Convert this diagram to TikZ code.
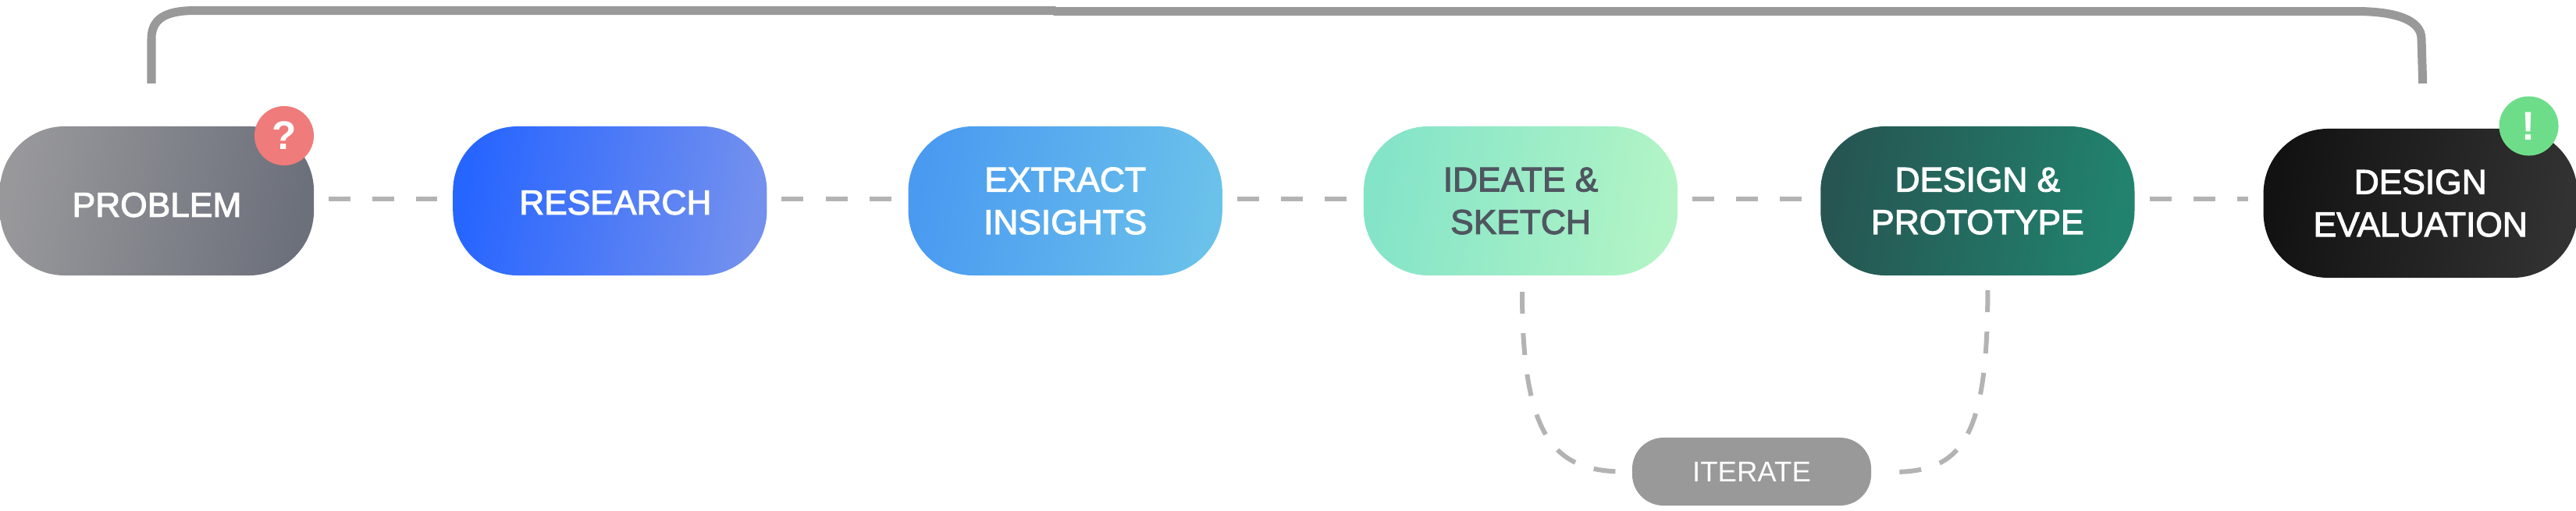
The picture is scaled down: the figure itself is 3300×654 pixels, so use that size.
\documentclass[tikz,border=0pt]{standalone}
\usepackage{fontspec}
\setmainfont{Liberation Sans}
\newfontfamily\stepfont[FakeBold=2.5]{Liberation Sans}
\usetikzlibrary{calc,positioning}
\definecolor{ProblemLeft}{HTML}{98989B}
\definecolor{ProblemMid}{HTML}{7E7E7E}
\definecolor{ProblemRight}{HTML}{6C707B}
\definecolor{ResearchLeft}{HTML}{2765FF}
\definecolor{ResearchRight}{HTML}{7390EE}
\definecolor{ExtractLeft}{HTML}{4A9AF1}
\definecolor{ExtractRight}{HTML}{6AC1EA}
\definecolor{IdeateLeft}{HTML}{84E4C8}
\definecolor{IdeateRight}{HTML}{B2F4C6}
\definecolor{IdeateText}{HTML}{4F5660}
\definecolor{DesignLeft}{HTML}{265552}
\definecolor{DesignRight}{HTML}{21836E}
\definecolor{EvalLeft}{HTML}{121212}
\definecolor{EvalRight}{HTML}{323232}
\definecolor{LinkGray}{HTML}{B3B3B3}
\definecolor{LoopGray}{HTML}{999999}
\definecolor{BadgeRed}{HTML}{F07B7B}
\definecolor{BadgeGreen}{HTML}{6EDD8A}
\tikzset{
    stepbox/.style={
        rounded corners=0.83cm,
        minimum width=4.02cm,
        minimum height=1.91cm,
        inner sep=0pt,
        outer sep=0pt,
        align=center,
        text=white,
        font=\stepfont\fontsize{12.6}{15.5}\selectfont
    },
    grad/.style 2 args={left color=#1, right color=#2, shading angle=80},
    flowdash/.style={LinkGray, line width=0.06cm, dash pattern=on 0.28cm off 0.28cm},
    loopdash/.style={flowdash, dash pattern=on 0.28cm off 0.25cm},
    badge/.style={
        circle,
        minimum size=0.76cm,
        inner sep=0pt,
        text=white,
        font=\bfseries\fontsize{14.6}{15}\selectfont
    }
}

\begin{document}
\begin{tikzpicture}[x=0.01cm, y=-0.01cm]
    \useasboundingbox (0,0) rectangle (3300,654);

    \node[stepbox, left color=ProblemLeft, middle color=ProblemMid, right color=ProblemRight, shading angle=80, text height=0.41cm] (problem) at (201,257.5) {PROBLEM};
    \node[stepbox, grad={ResearchLeft}{ResearchRight}, right=1.78cm of problem, text height=0.35cm] (research) {\hspace*{0.14cm}RESEARCH};
    \node[stepbox, grad={ExtractLeft}{ExtractRight}, right=1.81cm of research] (extract) {EXTRACT\\INSIGHTS};
    \node[stepbox, grad={IdeateLeft}{IdeateRight}, right=1.81cm of extract, text=IdeateText] (ideate) {IDEATE \&\\SKETCH};
    \node[stepbox, grad={DesignLeft}{DesignRight}, right=1.83cm of ideate] (design) {DESIGN \&\\PROTOTYPE};
    \node[stepbox, grad={EvalLeft}{EvalRight}, right=1.65cm of design, yshift=-0.03cm] (evaluation) {DESIGN\\EVALUATION};

    \node[fill=LoopGray, rounded corners=0.4cm, minimum width=3.06cm, minimum height=0.87cm, inner sep=0pt, outer sep=0pt, text=white,
        font=\fontsize{10.4}{12}\selectfont] (iterate) at (2244,604.5) {ITERATE};

    \node[badge, fill=BadgeRed] (question) at (364,174) {?};
    \node[badge, fill=BadgeGreen] (notice) at (3239.5,161.5) {!};

    % dashed links along the row
    \foreach \a/\b in {problem/research, research/extract, extract/ideate, ideate/design, design/evaluation}
        \draw[flowdash, shorten <=0.19cm, shorten >=0.2cm] (\a.east |- 0,255) -- (\b.west |- 0,255);

    % iterate loop
    \draw[loopdash, shorten <=0.21cm] ($(ideate.south)+(2,0)$) .. controls ($(ideate.south)+(2,217)$) and (1995,607) .. (iterate.west);
    \draw[loopdash, shorten <=0.19cm, shorten >=0.2cm] ($(design.south)+(13,0)$) .. controls ($(design.south)+(13,217)$) and (2510,607) .. (iterate.east);

    % loop back over the top
    \coordinate (backa) at ($(problem.north)+(-7,-55)$);
    \coordinate (backb) at ($(evaluation.north)+(3,-58)$);
    \draw[LoopGray, line width=0.11cm] (backa) -- (194,50) .. controls (194,24) and (212,13.5) .. (250,13.5) -- (1350,13.5) -- (1352,14.5) -- (3018,14.5) .. controls (3070,14.5) and (3102,26) .. (3102,50) -- (backb);
\end{tikzpicture}
\end{document}
